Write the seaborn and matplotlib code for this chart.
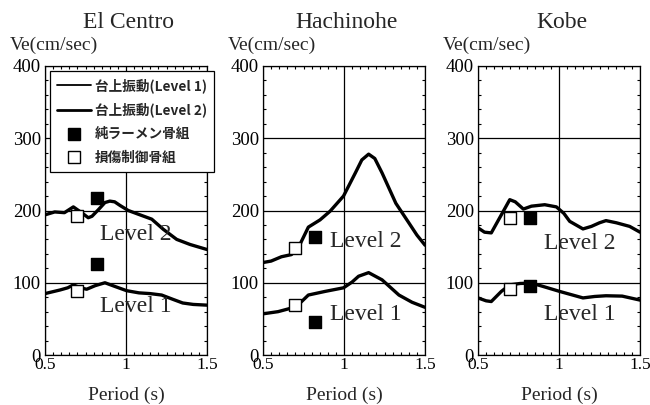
import matplotlib
matplotlib.use("Agg")
import matplotlib.pyplot as plt
from matplotlib.lines import Line2D
from matplotlib.ticker import MultipleLocator
import pandas as pd
import seaborn as sns

# ---- data -------------------------------------------------------------
records = ["El Centro", "Hachinohe", "Kobe"]

# El Centro
elc_l1_t = [0.50, 0.593, 0.64, 0.675, 0.72, 0.757, 0.81, 0.87, 0.93, 1.004, 1.08, 1.148, 1.22, 1.29, 1.35, 1.415, 1.50]
elc_l1_v = [85, 90, 93, 97, 93, 91, 96, 100, 95, 89, 86, 85, 83, 77, 72, 70, 69]
elc_l2_t = [0.50, 0.56, 0.62, 0.675, 0.726, 0.767, 0.79, 0.829, 0.87, 0.90, 0.93, 0.963, 1.014, 1.086, 1.159, 1.23, 1.313, 1.395, 1.50]
elc_l2_v = [194, 198, 197, 205, 197, 190, 192, 201, 211, 213, 212, 207, 200, 194, 188, 174, 160, 153, 146]

# Hachinohe
hac_l1_t = [0.50, 0.593, 0.676, 0.72, 0.78, 0.883, 0.997, 1.05, 1.09, 1.152, 1.235, 1.339, 1.42, 1.50]
hac_l1_v = [57, 60, 65, 70, 83, 88, 93, 101, 109, 114, 104, 83, 73, 66]
hac_l2_t = [0.50, 0.55, 0.614, 0.676, 0.728, 0.78, 0.852, 0.914, 0.997, 1.07, 1.11, 1.152, 1.19, 1.235, 1.32, 1.40, 1.45, 1.50]
hac_l2_v = [128, 130, 136, 139, 153, 177, 187, 199, 220, 252, 270, 278, 272, 252, 210, 183, 166, 152]

# Kobe
kob_l1_t = [0.50, 0.55, 0.582, 0.644, 0.696, 0.76, 0.83, 0.90, 1.004, 1.148, 1.22, 1.29, 1.39, 1.50]
kob_l1_v = [79, 75, 74, 88, 97, 99, 99.5, 95, 88, 79, 81, 82, 81.5, 76]
kob_l2_t = [0.50, 0.54, 0.582, 0.644, 0.696, 0.73, 0.78, 0.83, 0.912, 0.984, 1.03, 1.066, 1.148, 1.20, 1.25, 1.29, 1.354, 1.436, 1.50]
kob_l2_v = [176, 170, 169, 194, 215, 212, 202, 206, 208, 205, 196, 185, 174.5, 178, 183, 186, 183, 178, 170]

# building responses: open = damage-controlled frame, filled = pure rigid frame
t_open = 0.70
t_filled = 0.82
open_l1 = [88, 69, 92]
open_l2 = [192, 148, 189]
filled_l1 = [126, 46, 96]
filled_l2 = [217, 163, 189]

curves = [
    (elc_l1_t, elc_l1_v, elc_l2_t, elc_l2_v),
    (hac_l1_t, hac_l1_v, hac_l2_t, hac_l2_v),
    (kob_l1_t, kob_l1_v, kob_l2_t, kob_l2_v),
]

# annotation anchors for the "Level" labels (period, velocity)
level2_pos = [(0.84, 167), (0.915, 157), (0.905, 155)]
level1_pos = [(0.84, 67), (0.915, 56), (0.905, 56)]

legend_labels = ["台上振動(Level 1)", "台上振動(Level 2)", "純ラーメン骨組", "損傷制御骨組"]

# ---- styling ----------------------------------------------------------
sns.set_style("ticks")
plt.rcParams["font.family"] = ["Liberation Serif", "DejaVu Serif"]
plt.rcParams["axes.linewidth"] = 0.9

W, H = 650, 405
fig = plt.figure(figsize=(W / 100, H / 100), dpi=100)

lefts = [45, 263, 478]
ax_w = 162
ax_top, ax_bot = 66, 355

for i, rec in enumerate(records):
    l = lefts[i]
    ax = fig.add_axes([l / W, 1 - ax_bot / H, ax_w / W, (ax_bot - ax_top) / H])
    t1, v1, t2, v2 = curves[i]
    df1 = pd.DataFrame({"T": t1, "Ve": v1})
    df2 = pd.DataFrame({"T": t2, "Ve": v2})
    sns.lineplot(data=df1, x="T", y="Ve", color="black", lw=2.4, sort=False,
                 estimator=None, ax=ax, zorder=3, solid_joinstyle="round")
    sns.lineplot(data=df2, x="T", y="Ve", color="black", lw=2.4, sort=False,
                 estimator=None, ax=ax, zorder=3, solid_joinstyle="round")

    sns.scatterplot(x=[t_open, t_open], y=[open_l1[i], open_l2[i]], marker="s", s=75,
                    color="white", edgecolor="black", linewidth=1.0, ax=ax, zorder=4)
    sns.scatterplot(x=[t_filled, t_filled], y=[filled_l1[i], filled_l2[i]], marker="s", s=75,
                    color="black", edgecolor="black", linewidth=1.0, ax=ax, zorder=4)

    ax.text(*level2_pos[i], "Level 2", fontsize=17, va="center", ha="left", zorder=5)
    ax.text(*level1_pos[i], "Level 1", fontsize=17, va="center", ha="left", zorder=5)

    ax.set_xlim(0.5, 1.5)
    ax.set_ylim(0, 400)
    ax.set_xticks([0.5, 1, 1.5])
    ax.set_xticklabels(["0.5", "1", "1.5"])
    ax.set_yticks([0, 100, 200, 300, 400])
    ax.xaxis.set_minor_locator(MultipleLocator(0.05))
    ax.yaxis.set_minor_locator(MultipleLocator(20))
    ax.grid(True, which="major", color="black", lw=0.9, zorder=1)
    ax.tick_params(which="both", direction="in", top=True, right=True, colors="black")
    ax.tick_params(which="major", length=0)
    ax.tick_params(which="minor", length=2.5, width=0.8)
    ax.tick_params(axis="y", which="major", labelsize=13.5, pad=3.0)
    ax.tick_params(axis="x", which="major", labelsize=12.5, pad=1.5)
    ax.set_xlabel("")
    ax.set_ylabel("")
    for sp in ax.spines.values():
        sp.set_color("black")

    cx = (l + ax_w / 2) / W
    fig.text(cx + 3 / W, 1 - 22 / H, rec, ha="center", va="center", fontsize=17)
    fig.text((l - 35) / W, 1 - 45 / H, "Ve(cm/sec)", ha="left", va="center", fontsize=14)
    fig.text(cx, 1 - 400 / H, "Period (s)", ha="center", va="baseline", fontsize=14)

    if i == 0:
        handles = [
            Line2D([], [], color="black", lw=1.3),
            Line2D([], [], color="black", lw=2.0),
            Line2D([], [], color="black", marker="s", markersize=9, linestyle="none",
                   markerfacecolor="black"),
            Line2D([], [], color="black", marker="s", markersize=9, linestyle="none",
                   markerfacecolor="white", markeredgewidth=1.0),
        ]
        leg = ax.legend(handles, legend_labels, loc="upper left",
                        bbox_to_anchor=(5 / ax_w, (ax_bot - 71) / (ax_bot - ax_top)),
                        borderaxespad=0, frameon=True, fancybox=False, framealpha=1,
                        edgecolor="black", handlelength=2.5, handletextpad=0.3,
                        labelspacing=0.72, borderpad=0.5,
                        prop={"family": ["Noto Sans CJK JP"], "weight": "bold", "size": 9.8})
        leg.get_frame().set_linewidth(0.9)
        leg.set_zorder(10)

fig.savefig("out.png", dpi=100)
